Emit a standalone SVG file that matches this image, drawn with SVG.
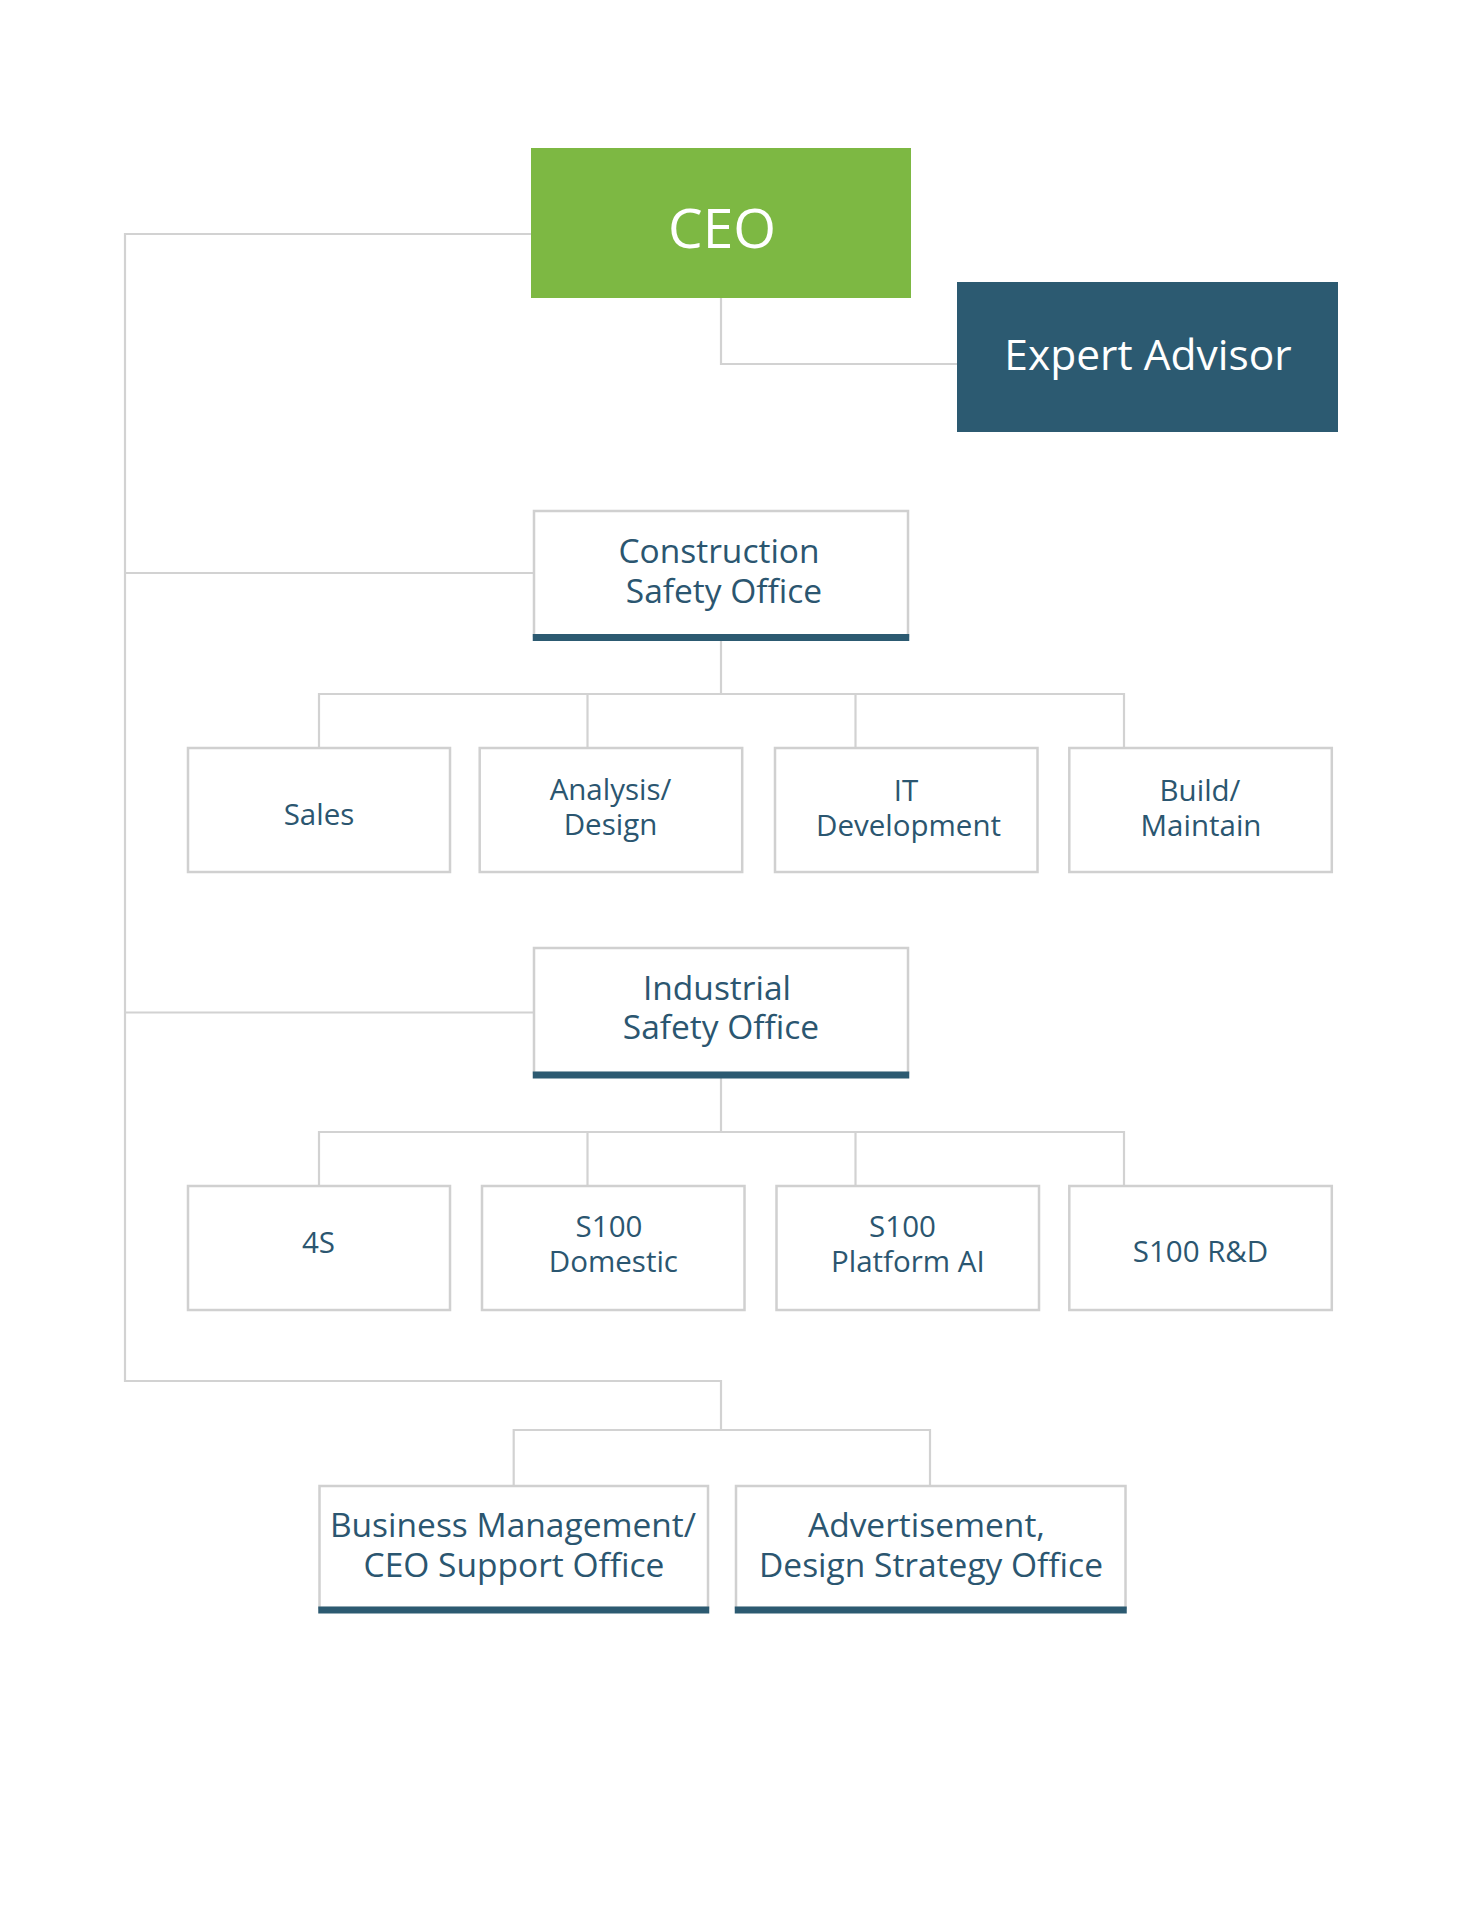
<svg xmlns="http://www.w3.org/2000/svg" width="1462" height="1930" viewBox="0 0 1462 1930">
<style>
.line{fill:none;stroke:#d2d2d2;stroke-width:2.2}
.box{fill:#ffffff;stroke:#d0d0d0;stroke-width:2.5}
.bar{fill:#2c5a71}
.t{font-family:"Open Sans","Noto Sans","Liberation Sans",sans-serif;fill:#2b5670;text-anchor:middle}
.c{font-size:29.5px}
.o{font-size:33.5px}
.b{font-size:33.5px}
.w{fill:#ffffff}
</style>
<rect width="1462" height="1930" fill="#ffffff"/>
<g id="connectors">
<path class="line" d="M531 234 H125 V1381 H721 V1430"/>
<path class="line" d="M125 573 H534"/>
<path class="line" d="M125 1012.5 H534"/>
<path class="line" d="M721 298 V364 H957"/>
<path class="line" d="M721 641 V694"/>
<path class="line" d="M319 748 V694 H1124 V748"/>
<path class="line" d="M587.5 694 V748"/>
<path class="line" d="M855.5 694 V748"/>
<path class="line" d="M721 1078 V1132"/>
<path class="line" d="M319 1186 V1132 H1124 V1186"/>
<path class="line" d="M587.5 1132 V1186"/>
<path class="line" d="M855.5 1132 V1186"/>
<path class="line" d="M513.7 1486 V1430 H930 V1486"/>
</g>
<g id="ceo">
<rect x="531" y="148" width="380" height="150" fill="#7db843"/>
<text class="t w" x="722" y="248" font-size="55">CEO</text>
</g>
<g id="expert-advisor">
<rect x="957" y="282" width="381" height="150" fill="#2c5a71"/>
<text class="t w" x="1148" y="370" font-size="42.5">Expert Advisor</text>
</g>
<g id="construction-safety-office">
<rect class="box" x="534" y="511" width="374" height="125"/>
<rect class="bar" x="532.75" y="634" width="376.5" height="7"/>
<text class="t o" x="719" y="563">Construction</text>
<text class="t o" x="724" y="603">Safety Office</text>
</g>
<g id="sales">
<rect class="box" x="188" y="748" width="262" height="124"/>
<text class="t c" x="319" y="825">Sales</text>
</g>
<g id="analysis-design">
<rect class="box" x="479.7" y="748" width="262.5" height="124"/>
<text class="t c" x="610.5" y="800">Analysis/</text>
<text class="t c" x="610.5" y="835">Design</text>
</g>
<g id="it-development">
<rect class="box" x="775" y="748" width="262.5" height="124"/>
<text class="t c" x="906" y="800.7">IT</text>
<text class="t c" x="908.5" y="836">Development</text>
</g>
<g id="build-maintain">
<rect class="box" x="1069.3" y="748" width="262.5" height="124"/>
<text class="t c" x="1200" y="800.7">Build/</text>
<text class="t c" x="1201" y="836">Maintain</text>
</g>
<g id="industrial-safety-office">
<rect class="box" x="534" y="948" width="374" height="125"/>
<rect class="bar" x="532.75" y="1071.5" width="376.5" height="7"/>
<text class="t o" x="717" y="1000">Industrial</text>
<text class="t o" x="721" y="1039">Safety Office</text>
</g>
<g id="n4s">
<rect class="box" x="188" y="1186" width="262" height="124"/>
<text class="t c" x="318.5" y="1253">4S</text>
</g>
<g id="s100-domestic">
<rect class="box" x="482" y="1186" width="262.5" height="124"/>
<text class="t c" x="609" y="1236.7">S100</text>
<text class="t c" x="613.4" y="1271.7">Domestic</text>
</g>
<g id="s100-platform-ai">
<rect class="box" x="776.5" y="1186" width="262.5" height="124"/>
<text class="t c" x="902.5" y="1236.7">S100</text>
<text class="t c" x="907.8" y="1271.7">Platform AI</text>
</g>
<g id="s100-rd">
<rect class="box" x="1069.3" y="1186" width="262.5" height="124"/>
<text class="t c" x="1200.5" y="1261.7">S100 R&amp;D</text>
</g>
<g id="business-management">
<rect class="box" x="319.5" y="1486" width="388.5" height="122"/>
<rect class="bar" x="318.25" y="1606.5" width="391" height="7"/>
<text class="t b" x="513" y="1536.7">Business Management/</text>
<text class="t b" x="514" y="1576.7">CEO Support Office</text>
</g>
<g id="advertisement-design-strategy">
<rect class="box" x="736" y="1486" width="389.5" height="122"/>
<rect class="bar" x="734.75" y="1606.5" width="392" height="7"/>
<text class="t b" x="926.5" y="1536.7">Advertisement,</text>
<text class="t b" x="931" y="1576.7">Design Strategy Office</text>
</g>
</svg>
